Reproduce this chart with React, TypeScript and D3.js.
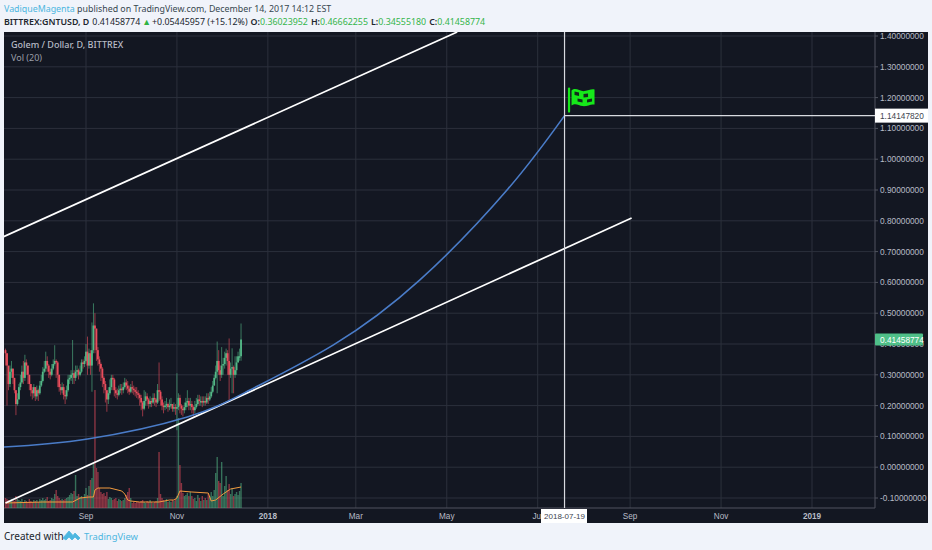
import React from "react";
import * as d3 from "d3";

const W = 932, H = 550;
const firstCandle = "2017-07-09";
const firstOpen = 0.38;
const closes = [
.37,.33,.27,.31,.32,.29,.25,.205,.22,.26,
.275,.31,.29,.34,.33,.30,.27,.25,.24,.26,
.23,.25,.24,.265,.28,.31,.32,.345,.33,.31,
.30,.32,.335,.345,.34,.30,.26,.25,.26,.235,
.23,.25,.285,.29,.30,.305,.29,.31,.315,.30,
.31,.34,.335,.345,.375,.33,.37,.33,.38,.46,
.45,.38,.35,.335,.32,.29,.27,.25,.22,.24,
.26,.29,.285,.25,.24,.235,.25,.255,.25,.26,
.275,.265,.255,.245,.26,.255,.25,.245,.24,.235,
.225,.21,.19,.215,.23,.22,.205,.215,.21,.225,
.22,.21,.25,.245,.22,.20,.195,.20,.205,.195,
.20,.205,.19,.195,.19,.195,.225,.20,.19,.185,
.195,.21,.215,.20,.205,.195,.185,.195,.205,.22,
.215,.215,.21,.215,.21,.225,.22,.23,.245,.265,
.29,.31,.345,.315,.30,.33,.335,.355,.37,.345,
.30,.32,.325,.30,.315,.34,.36,.3602,.4146];
const highs = [
.385,.37,.32,.33,.345,.32,.29,.25,.24,.27,
.30,.33,.345,.365,.35,.33,.30,.27,.26,.27,
.26,.265,.255,.28,.30,.325,.345,.375,.36,.335,
.32,.335,.35,.396,.35,.345,.30,.27,.275,.27,
.25,.265,.30,.30,.315,.413,.315,.33,.33,.32,
.33,.35,.35,.36,.40,.424,.385,.38,.47,.532,
.50,.45,.39,.36,.34,.325,.295,.28,.25,.26,
.285,.30,.30,.29,.26,.255,.265,.27,.27,.275,
.29,.285,.28,.265,.27,.28,.265,.26,.26,.25,
.24,.235,.215,.25,.245,.24,.225,.23,.225,.24,
.24,.225,.27,.34,.25,.23,.21,.215,.225,.21,
.22,.225,.205,.21,.205,.305,.24,.235,.205,.20,
.21,.225,.25,.225,.225,.215,.20,.215,.225,.235,
.235,.23,.23,.23,.23,.24,.24,.245,.26,.28,
.30,.33,.408,.38,.33,.39,.355,.375,.385,.38,
.418,.34,.386,.33,.36,.36,.375,.385,.4666];
const lows = [
.33,.20,.25,.26,.29,.27,.24,.169,.20,.22,
.25,.27,.27,.28,.30,.27,.25,.23,.22,.225,
.215,.22,.215,.235,.26,.275,.305,.31,.31,.29,
.285,.295,.315,.33,.29,.26,.245,.235,.24,.22,
.205,.22,.245,.27,.28,.27,.27,.28,.295,.285,
.295,.305,.32,.325,.34,.30,.32,.30,.245,.37,
.37,.345,.33,.31,.28,.26,.24,.21,.18,.205,
.235,.25,.25,.23,.225,.22,.23,.24,.235,.24,
.255,.25,.24,.235,.24,.24,.235,.23,.225,.22,
.20,.185,.165,.185,.20,.20,.19,.195,.195,.205,
.20,.195,.205,.215,.20,.185,.175,.185,.19,.18,
.185,.19,.18,.18,.17,.12,.185,.175,.17,.165,
.175,.185,.195,.185,.185,.175,.165,.175,.19,.20,
.20,.20,.195,.20,.20,.205,.205,.215,.225,.24,
.265,.285,.24,.30,.28,.29,.30,.32,.33,.30,
.218,.29,.24,.24,.29,.30,.34,.3456,.3456];
const volumes = [
10,9,8,7,9,8,7,12,9,8,
7,9,6,8,7,6,9,7,6,8,
7,8,6,9,8,10,8,9,11,7,
8,10,9,14,18,12,10,8,9,8,
9,10,11,13,15,14,17,33,12,14,
11,12,10,14,20,13,22,28,30,45,
118,40,36,20,16,14,15,12,16,9,
11,10,8,9,10,7,9,8,7,8,
10,13,16,20,10,5,6,5,6,6,
6,7,8,6,5,7,6,8,6,5,
6,7,10,56,14,10,8,7,9,6,
7,6,8,7,9,12,90,43,25,15,
12,13,15,12,16,12,9,10,7,13,
10,7,12,8,10,8,14,12,16,12,
18,35,51,27,25,46,12,22,32,18,
24,14,20,12,14,16,13,17,25];
const maIndex = [0,25,45,50,56,59,60,62,70,78,80,82,84,90,103,110,113,115,117,125,136,138,141,146,151,158];
const maValues = [5,6,6,10,11,11,18,20,20,17,14,8,7,6,6,8,8,10,17,16,15,7,8,14,19,21];

const curveDates = ["2017-07-08","2017-09-02","2017-11-08","2017-12-20","2018-02-14","2018-04-13","2018-06-11","2018-07-19"];
const curvePrices = [.0656,.0916,.163,.2506,.397,.608,.903,1.14148];
const upperLineDates = ["2017-07-07","2018-05-08"];
const upperLinePrices = [.747,1.413];
const lowerLineDates = ["2017-07-09","2018-09-02"];
const lowerLinePrices = [-.116,.809];

const priceTicks = [1.4,1.3,1.2,1.1,1.0,.9,.8,.7,.6,.5,.4,.3,.2,.1,0,-.1];
const timeTickDates = ["2017-09-01","2017-11-01","2018-01-01","2018-03-01","2018-05-01","2018-07-01","2018-09-01","2018-11-01","2019-01-01"];
const timeTickLabels = ["Sep","Nov","2018","Mar","May","Jul","Sep","Nov","2019"];
const crossDate = "2018-07-19";
const crossPrice = 1.14147820;
const lastPrice = 0.41458774;

const d = (s: string) => new Date(s + "T00:00:00Z");
const x = d3.scaleUtc().domain([d("2017-09-01"), d("2019-01-01")]).range([86, 812]);
const y = d3.scaleLinear().domain([1.4, -0.1]).range([36, 498]);
const v = d3.scaleLinear().domain([0, 118]).range([508, 390]);
const cx = (i: number) => x(d3.utcDay.offset(d(firstCandle), i));

const UP = "#53b987", DOWN = "#eb4d5c";
const GRID = "#2c303c", AXIS = "#50535e", TICK = "#b8bcc6";
const MONO = "'Liberation Sans', Arial, sans-serif";
const UI = "'Noto Sans', sans-serif";

const lineDate = d3.line<[string, number]>().x(p => x(d(p[0]))).y(p => y(p[1]));
const curvePath = d3.line<number>().x((_, i) => x(d(curveDates[i]))).y(p => y(p)).curve(d3.curveNatural)(curvePrices)!;
const maPath = d3.line<number>().x((_, i) => cx(maIndex[i])).y(p => v(p))(maValues)!;
const pairs = (a: string[], b: number[]) => a.map((s, i) => [s, b[i]] as [string, number]);

export default function App() {
  const crossX = x(d(crossDate));
  const crossY = y(crossPrice);
  const lastY = y(lastPrice);
  return (
    <svg width={W} height={H} viewBox={`0 0 ${W} ${H}`} style={{ position: "absolute", left: 0, top: 0, display: "block" }}>
      <rect width={W} height={H} fill="#f0f3fa" />
      <text x={4} y={12} fontFamily={UI} fontSize={8.85} fill="#37474f">
        <tspan fill="#4db6e0">VadiqueMagenta</tspan> published on TradingView.com, December 14, 2017 14:12 EST
      </text>
      <text x={4} y={25} fontFamily={UI} fontSize={8.85} fill="#20262e">
        <tspan fontWeight={600}>BITTREX:GNTUSD, D</tspan>
        <tspan dx={3}>0.41458774</tspan>
        <tspan fill="#2fb344" dx={2}>▲</tspan>
        <tspan dx={1}>+0.05445957 (+15.12%)</tspan>
        <tspan dx={3} fontWeight={600}>O:</tspan><tspan fill="#35b54a">0.36023952</tspan>
        <tspan dx={3} fontWeight={600}>H:</tspan><tspan fill="#35b54a">0.46662255</tspan>
        <tspan dx={3} fontWeight={600}>L:</tspan><tspan fill="#35b54a">0.34555180</tspan>
        <tspan dx={3} fontWeight={600}>C:</tspan><tspan fill="#35b54a">0.41458774</tspan>
      </text>

      <rect x={4} y={32} width={924} height={491} fill="#131722" />
      <defs>
        <clipPath id="plot"><rect x={4} y={32} width={871} height={476} /></clipPath>
        <filter id="soft" x="-5%" y="-5%" width="110%" height="110%"><feGaussianBlur stdDeviation="0.45" /></filter>
      </defs>

      {priceTicks.map(t => <line key={t} x1={4} x2={875} y1={y(t)} y2={y(t)} stroke={GRID} />)}
      {timeTickDates.map(t => <line key={t} x1={x(d(t))} x2={x(d(t))} y1={32} y2={508} stroke={GRID} />)}
      <line x1={875} x2={875} y1={32} y2={508} stroke={AXIS} />
      <line x1={4} x2={875} y1={508} y2={508} stroke={AXIS} />

      <g clipPath="url(#plot)">
        <g filter="url(#soft)">
          {volumes.map((h, i) => {
            const open = i === 0 ? firstOpen : closes[i - 1];
            return <rect key={i} x={cx(i) - 0.7} width={1.4} y={v(h)} height={v(0) - v(h)} fill={closes[i] >= open ? UP : DOWN} opacity={0.55} />;
          })}
          <path d={maPath} fill="none" stroke="#f19a3e" strokeWidth={1} />
          {closes.map((c, i) => {
            const open = i === 0 ? firstOpen : closes[i - 1];
            const col = c >= open ? UP : DOWN;
            return (
              <g key={i}>
                <line x1={cx(i)} x2={cx(i)} y1={y(highs[i])} y2={y(lows[i])} stroke={col} strokeOpacity={0.6} strokeWidth={1} />
                <rect x={cx(i) - 0.9} width={1.8} y={y(Math.max(open, c))} height={Math.max(1.5, Math.abs(y(open) - y(c)))} fill={col} />
              </g>
            );
          })}
        </g>
        <path d={lineDate(pairs(upperLineDates, upperLinePrices))!} stroke="#ffffff" strokeWidth={1.7} fill="none" />
        <path d={lineDate(pairs(lowerLineDates, lowerLinePrices))!} stroke="#ffffff" strokeWidth={1.7} fill="none" />
        <path d={curvePath} stroke="#4a7cc8" strokeWidth={1.6} fill="none" />
        <line x1={crossX} x2={crossX} y1={32} y2={508} stroke="#d8dae0" strokeWidth={1.2} />
        <line x1={crossX} x2={875} y1={crossY} y2={crossY} stroke="#d8dae0" strokeWidth={1.2} />
        <g transform={`translate(${crossX},${crossY})`}>
          <line x1={4.5} x2={4.5} y1={-27} y2={-4} stroke="#16e81a" strokeWidth={2.2} strokeLinecap="round" />
          <path d="M7,-25 C11,-29 15,-24 20,-24.5 C24,-25 27,-27 30,-26 L30,-11 C26,-12 23,-9 18,-9.5 C14,-10 11,-13 7,-10 Z" fill="#16e81a" />
          <path d="M10,-24 L14.5,-23 L14.5,-19.5 L10,-20.5 Z M19,-21.5 L23.5,-22 L23.5,-18.5 L19,-18 Z M13,-17 L18,-16 L18,-13 L13,-14 Z M22.5,-16 L27.5,-17 L27.5,-14 L22.5,-13 Z" fill="#12281c" />
        </g>
      </g>

      {priceTicks.map(t => (
        <g key={t}>
          <line x1={875} x2={878} y1={y(t)} y2={y(t)} stroke={AXIS} />
          <text x={880} y={y(t) + 3} fontFamily={MONO} fontSize={8.3} fill={TICK}>{t.toFixed(8)}</text>
        </g>
      ))}
      {timeTickDates.map((t, i) => (
        <text key={t} x={x(d(t))} y={519} textAnchor="middle" fontFamily={MONO} fontSize={8.2}
          fontWeight={timeTickLabels[i].startsWith("20") ? 700 : 400} fill={TICK}>{timeTickLabels[i]}</text>
      ))}

      <text x={11} y={48} fontFamily={UI} fontSize={9} fontWeight={500} fill="#b8bcc6">Golem / Dollar, D, BITTREX</text>
      <text x={11} y={61} fontFamily={UI} fontSize={9} fill="#9a9ea8">Vol (20)</text>

      <rect x={875} y={lastY - 6} width={48} height={12} rx={1} fill="#4fbf88" />
      <text x={880} y={lastY + 3} fontFamily={MONO} fontSize={8.3} fill="#ffffff">{lastPrice.toFixed(8)}</text>

      <rect x={875} y={crossY - 7} width={53} height={14} fill="#ffffff" />
      <text x={880} y={crossY + 3} fontFamily={MONO} fontSize={8.3} fill="#40444e">{crossPrice.toFixed(8)}</text>
      <rect x={541} y={509} width={46} height={14} fill="#ffffff" />
      <text x={crossX} y={519} textAnchor="middle" fontFamily={MONO} fontSize={8} fill="#40444e">{crossDate}</text>

      <text x={4} y={540} fontFamily={UI} fontSize={10} fill="#20262e">Created with</text>
      <path d="M63,538 L69,531 L73,535.5 L75,533 L80,538 L78,540 L75,537 L72,540 L69,537 L66,540 Z" fill="#4db6e0" stroke="#4db6e0" strokeWidth={0.8} strokeLinejoin="round" />
      <text x={84} y={540} fontFamily={UI} fontSize={9.4} fill="#4db6e0">TradingView</text>
    </svg>
  );
}
